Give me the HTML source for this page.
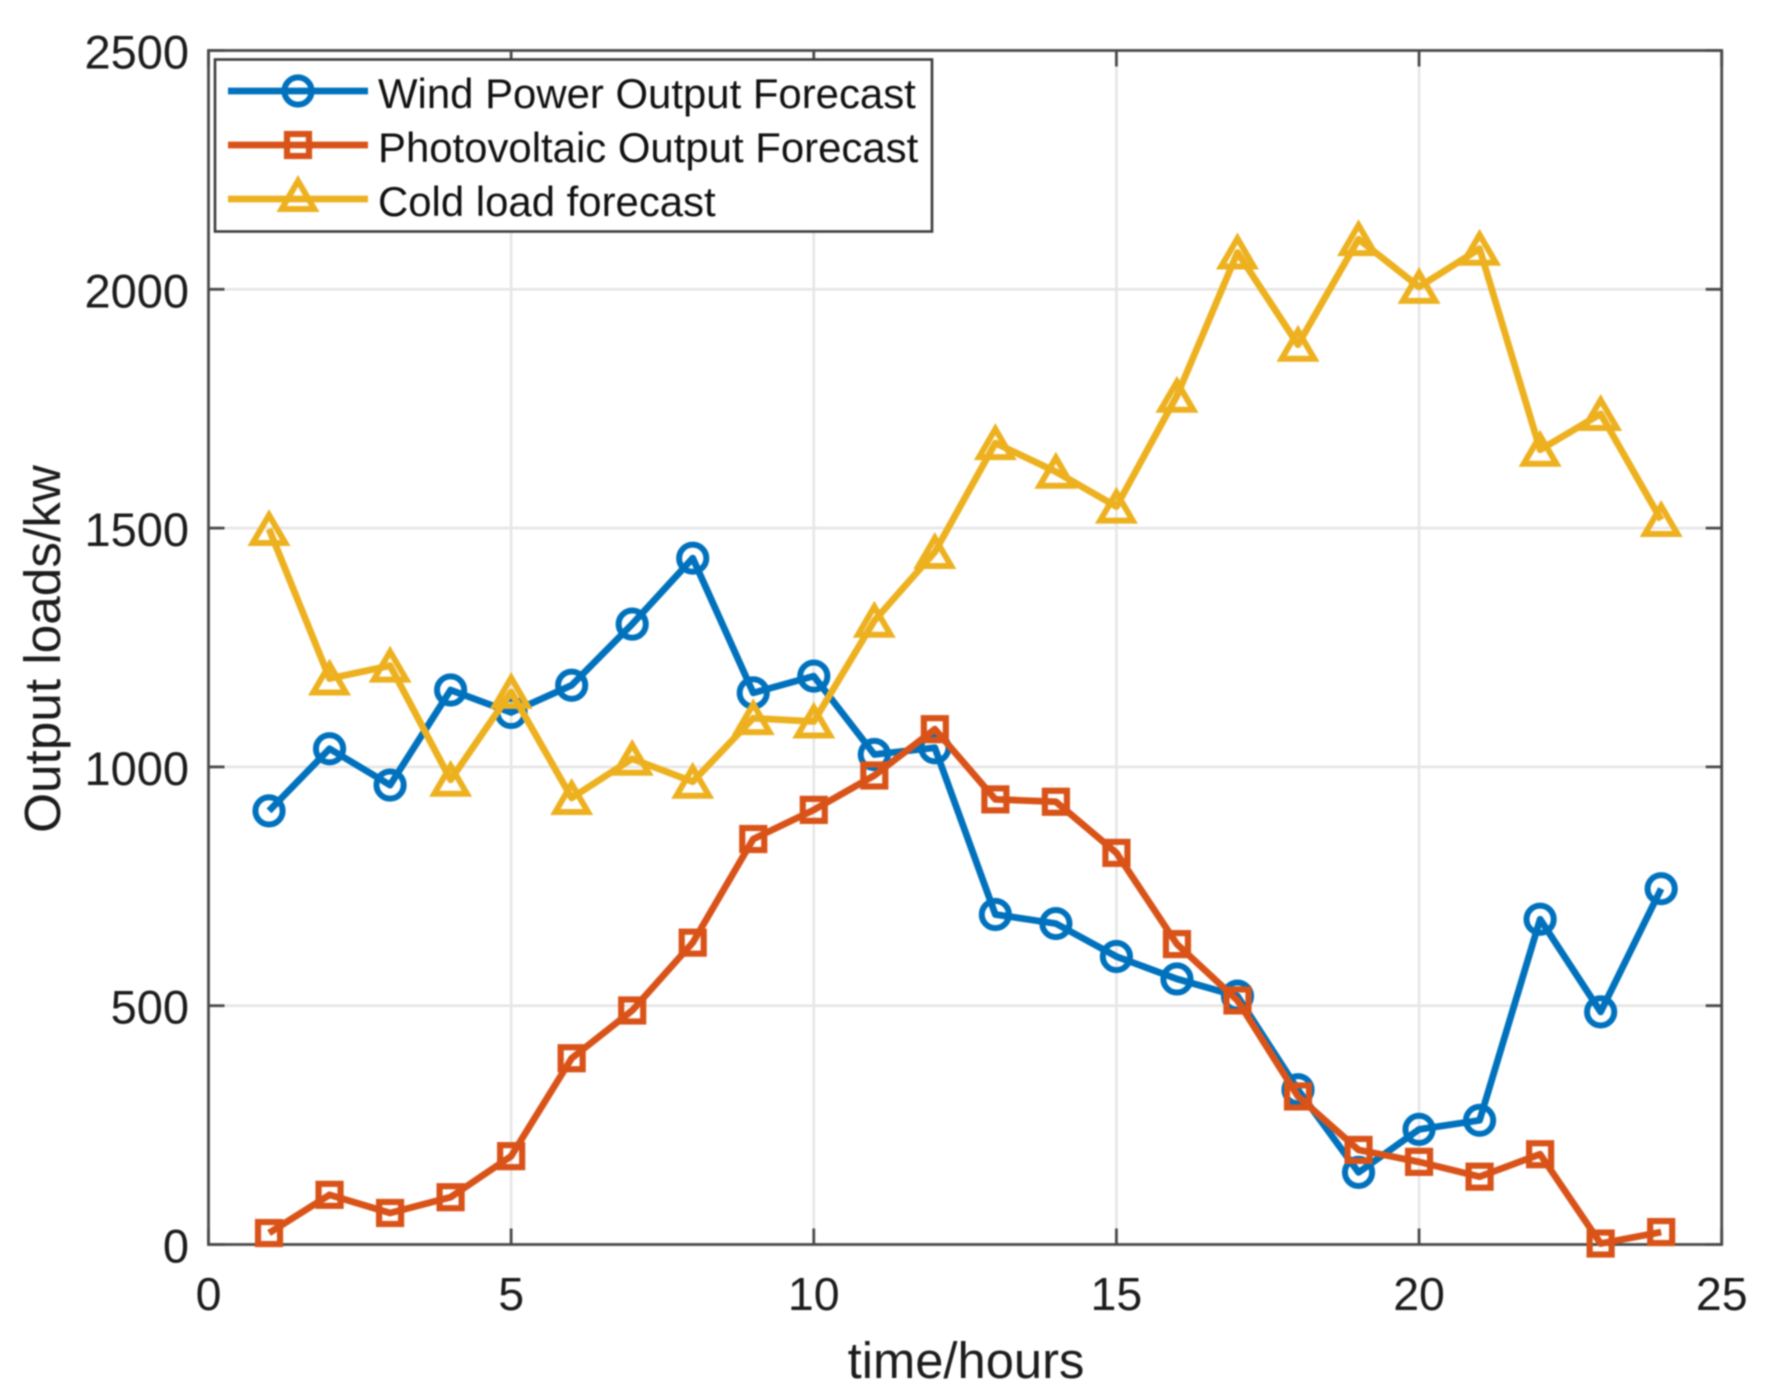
<!DOCTYPE html>
<html lang="en">
<head>
<meta charset="utf-8">
<title>Output loads forecast chart</title>
<style>
html,body{margin:0;padding:0;background:#fff;}
body{width:1771px;height:1395px;overflow:hidden;}
svg{display:block;filter:blur(0.7px);font-family:"Liberation Sans",Arial,sans-serif;}
</style>
</head>
<body>
<svg id="chart" width="1771" height="1395" viewBox="0 0 1771 1395" xmlns="http://www.w3.org/2000/svg"></svg>
<script>
const hours = [1,2,3,4,5,6,7,8,9,10,11,12,13,14,15,16,17,18,19,20,21,22,23,24];
const windPower = [908,1038,962,1161,1114,1171,1299,1437,1155,1190,1026,1040,691,672,603,556,520,324,151,241,260,681,487,745];
const photovoltaic = [24,104,66,99,185,390,490,632,849,910,982,1079,932,927,820,629,511,310,198,173,142,189,2,26];
const coldLoad = [1498,1185,1212,973,1157,935,1017,969,1102,1095,1306,1450,1678,1618,1545,1777,2077,1884,2105,2005,2085,1664,1739,1517];
const xTicks = [0,5,10,15,20,25];
const yTicks = [0,500,1000,1500,2000,2500];
const legendLabels = ["Wind Power Output Forecast","Photovoltaic Output Forecast","Cold load forecast"];

const NS = "http://www.w3.org/2000/svg";
const svg = document.getElementById("chart");
const plot = {left:208.5, right:1721.7, top:50.5, bottom:1244.5};
const xMax = 25, yMax = 2500;
function xScale(v){ return plot.left + v/xMax*(plot.right-plot.left); }
function yScale(v){ return plot.bottom - v/yMax*(plot.bottom-plot.top); }
function make(tag, attrs, parent){
  const n = document.createElementNS(NS, tag);
  for (const k in attrs) n.setAttribute(k, attrs[k]);
  (parent||svg).appendChild(n);
  return n;
}
const COLORS = {blue:"#0072BD", orange:"#D95319", yellow:"#EDB120"};
const AXIS = "#4a4a4a";
const TEXT = "#1c1c1c";

function drawMarker(kind, cx, cy, color, parent, legend){
  let m;
  if (kind === "circle") {
    m = make("circle",{cx:cx,cy:cy,r:13.6,fill:"none",stroke:color,"stroke-width":6},parent);
  } else if (kind === "square") {
    m = make("rect",{x:cx-11,y:cy-11,width:22,height:22,fill:"none",stroke:color,"stroke-width":6.2},parent);
  } else {
    const top = legend ? -18 : -14, base = legend ? 10 : 14;
    m = make("polygon",{points:(cx)+","+(cy+top)+" "+(cx+16.3)+","+(cy+base)+" "+(cx-16.3)+","+(cy+base),fill:"none",stroke:color,"stroke-width":6,"stroke-linejoin":"miter","stroke-miterlimit":10},parent);
  }
  return m;
}

/* grid */
const grid = make("g",{});


xTicks.slice(1,-1).forEach(function(t){
  const l = make("line",{x1:xScale(t),x2:xScale(t),y1:plot.top,y2:plot.bottom,stroke:"#e6e6e6","stroke-width":2.6},grid);
  
  
});
yTicks.slice(1,-1).forEach(function(t){
  const l = make("line",{x1:plot.left,x2:plot.right,y1:yScale(t),y2:yScale(t),stroke:"#e6e6e6","stroke-width":2.6},grid);
  
  
});

/* axes box */
const box = make("rect",{x:plot.left,y:plot.top,width:plot.right-plot.left,height:plot.bottom-plot.top,fill:"none",stroke:AXIS,"stroke-width":2.8});



/* ticks and labels */
const xAxis = make("g",{});


xTicks.forEach(function(t){
  const x = xScale(t);
  [[plot.bottom,plot.bottom-16],[plot.top,plot.top+16]].forEach(function(p){
    const l = make("line",{x1:x,x2:x,y1:p[0],y2:p[1],stroke:AXIS,"stroke-width":2.8},xAxis);
    
    
  });
  const lab = make("text",{x:x,y:1310,"text-anchor":"middle","font-size":46.5,fill:TEXT},xAxis);
  lab.textContent = t;
  
  
});
const yAxis = make("g",{});


yTicks.forEach(function(t){
  const y = yScale(t);
  [[plot.left,plot.left+16],[plot.right,plot.right-16]].forEach(function(p){
    const l = make("line",{x1:p[0],x2:p[1],y1:y,y2:y,stroke:AXIS,"stroke-width":2.8},yAxis);
    
    
  });
  const lab = make("text",{x:189,y:y+18,"text-anchor":"end","font-size":47,fill:TEXT},yAxis);
  lab.textContent = t;
  
  
});

const xTitle = make("text",{x:966,y:1378,"text-anchor":"middle","font-size":50.7,fill:TEXT});
xTitle.textContent = "time/hours";


const yTitle = make("text",{transform:"translate(60 649) rotate(-90)","text-anchor":"middle","font-size":51.3,fill:TEXT});
yTitle.textContent = "Output loads/kw";



/* series */
function drawSeries(values, color, kind, group){
  const pts = hours.map(function(h,i){ return xScale(h)+","+yScale(values[i]); }).join(" ");
  const line = make("polyline",{points:pts,fill:"none",stroke:color,"stroke-width":6.8,"stroke-linejoin":"round"},group);
  
  
  hours.forEach(function(h,i){
    const m = drawMarker(kind,xScale(h),yScale(values[i]),color,group,false);
    
    
  });
}
const windGroup = make("g",{});


drawSeries(windPower, COLORS.blue, "circle", windGroup);
const pvGroup = make("g",{});


drawSeries(photovoltaic, COLORS.orange, "square", pvGroup);
const coldGroup = make("g",{});


drawSeries(coldLoad, COLORS.yellow, "triangle", coldGroup);

/* legend */
const legend = make("g",{});


const legendBox = make("rect",{x:215,y:59.5,width:717,height:172,fill:"#fff",stroke:"#3c3c3c","stroke-width":2.6},legend);


const legendStyle = [[COLORS.blue,"circle"],[COLORS.orange,"square"],[COLORS.yellow,"triangle"]];
legendLabels.forEach(function(label,i){
  const y = 91 + i*54;
  const entry = make("g",{},legend);
  
  
  const sw = make("line",{x1:228,x2:368,y1:y,y2:y,stroke:legendStyle[i][0],"stroke-width":6.8},entry);
  
  
  const mk = drawMarker(legendStyle[i][1],298,y,legendStyle[i][0],entry,true);
  
  
  const tx = make("text",{x:378,y:y+17,"font-size":41.9,fill:"#111"},entry);
  tx.textContent = label;
  
  
});
</script>
</body>
</html>
